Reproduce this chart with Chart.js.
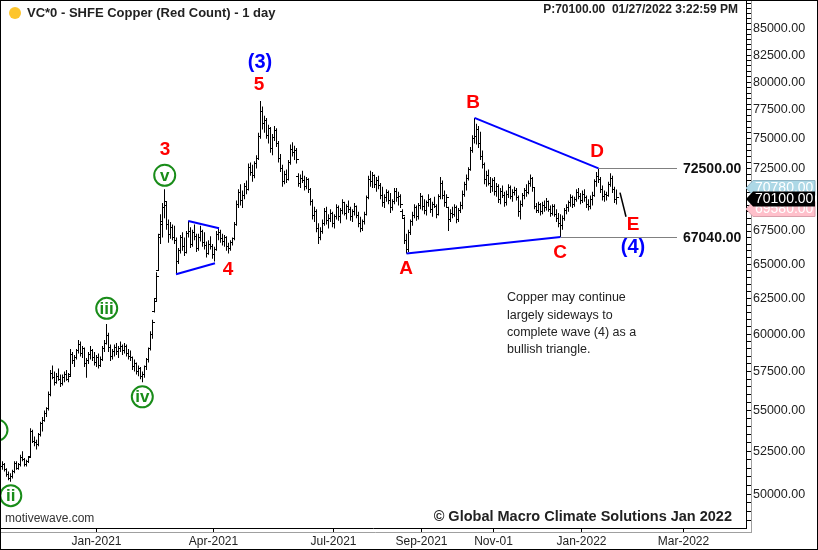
<!DOCTYPE html>
<html>
<head>
<meta charset="utf-8">
<title>VC*0 - SHFE Copper (Red Count) - 1 day</title>
<script src="https://cdn.jsdelivr.net/npm/chart.js@4.4.1/dist/chart.umd.min.js"></script>
<style>
  html, body { margin: 0; padding: 0; background: #fff; }
  canvas { display: block; }
</style>
</head>
<body>
<canvas id="chart" width="818" height="550"></canvas>
<script>
// -------------------------------
// DAILY OHLC (bar 0 = late Oct 2020, bar 307 = 27 Jan 2022)
// -------------------------------
const opens = [
  51600,51700,51400,51100,50900,51000,51300,51800,51500,51700,52100,52000,51700,51900,
  52200,53700,53100,53000,52900,53500,54200,54400,54800,
  55100,56000,57400,57100,56800,57200,57000,56700,57100,57300,57000,
  57300,58600,58200,58400,58900,59300,58700,
  59000,58000,58200,58600,58900,58400,58100,58400,57900,
  58300,59000,59400,59900,59100,58500,
  58800,59100,58800,59000,59200,58900,59200,58700,58500,
  58400,57800,58000,57500,57700,57200,57300,
  57800,58300,59000,60000,61600,62500,64500,67200,68000,69300,
  69500,68000,67200,67800,67000,66800,
  65200,66000,67000,66300,65900,67300,67500,66500,67400,67100,66200,67000,67500,66600,66400,65800,66500,66300,65700,66100,67200,67400,
  66900,66700,67000,66300,66200,66600,66900,
  68000,69600,70500,69900,70300,71000,70800,72600,72200,71900,72900,73300,75200,
  77400,76300,76600,75300,75900,74200,75100,75700,74600,73300,72500,71400,72000,71600,73000,74100,73800,74000,
  71800,71300,71700,71500,71000,71600,70800,69800,68700,69000,67700,67000,67500,
  68100,69000,68300,68500,68900,68100,68600,69300,68600,69100,69700,68900,69400,69200,68600,69000,69400,68700,
  68100,67700,68200,68800,
  70100,71600,71400,71900,71200,71500,71100,70300,69700,70100,70500,69900,69300,69800,70600,70100,70200,
  69000,68500,66800,66100,67400,68200,68700,69300,
  68600,69500,70200,69400,69100,69700,70000,69200,69600,69400,
  68800,70200,71300,70300,69700,
  69300,68400,68900,68800,69300,68400,69100,
  69500,70400,71200,71700,72400,74000,75000,75200,
  75800,74600,73500,72800,71600,71900,71300,71000,
  71500,70600,71000,70000,70600,70300,69700,70400,70900,70200,70500,70700,70100,69000,
  69600,70300,70700,70500,71300,71700,
  70900,69400,69100,69600,69000,69500,69300,69800,69200,68900,69400,68800,68500,
  68100,67900,68500,69100,69300,69700,70100,69600,70000,
  70500,70200,69900,70400,70100,69600,69400,70000,
  70300,71400,71800,71600,70800,70200,70400,70300,71200,71700,70800,70000
];
const highs = [
  51900,51800,51500,51300,51200,51400,51900,51900,51800,52300,52500,52100,52000,52200,
  53900,53800,53400,53200,53600,54300,54600,55000,55200,
  56200,57600,57900,57500,57400,57700,57300,57300,57500,57600,57400,
  59000,58800,58600,59000,59600,59500,59200,
  59100,58400,58800,59200,59000,58800,58600,58700,58500,
  59200,59600,60700,60100,59300,59000,
  59300,59400,59200,59500,59300,59400,59300,59000,58900,
  58500,58300,58100,57900,57800,57500,57900,
  58400,59100,60200,61000,62500,64400,67300,68800,69700,70800,
  69800,68400,68200,68000,67900,67000,
  66200,67200,67400,67000,67500,68300,67800,67600,68000,67300,67300,67900,67600,67400,66700,66800,67100,66500,66300,67500,67800,67600,
  67300,67200,67100,66600,66800,67000,68200,
  69900,70800,71200,70700,71300,71500,72900,73000,72800,73100,73600,75500,78300,
  77800,77000,76800,76200,76000,75400,76100,75900,74800,73700,72800,72300,72400,73200,74500,74700,74400,74200,
  72100,72000,72300,71900,71800,71700,70900,70000,69400,69200,68100,67800,68400,
  69300,69400,68800,69200,69000,68800,69600,69500,69300,70000,69800,69600,69900,69400,69200,69700,69500,69000,
  68600,68400,69000,70300,
  71900,72300,72200,72000,71800,71900,71300,71000,70400,70800,70700,70500,70000,70900,70900,70600,70400,
  69200,68600,67300,67600,68400,69000,69600,69500,
  69700,70500,70300,70000,69900,70400,70100,69800,70200,69600,
  70400,71800,71500,70700,70400,
  69400,69200,69400,69600,69500,69300,69800,
  70700,71400,72000,72600,74300,75300,76800,76300,
  76100,75600,74000,73000,72300,72400,71800,71700,
  71800,71300,71200,70900,71100,70600,70700,71200,71100,70800,71000,70900,70300,69900,
  70500,70900,71200,71500,72000,71800,
  70900,69700,69800,69700,69800,69900,70100,69900,69500,69600,69600,69200,68900,
  68800,68700,69300,69600,69900,70400,70300,70200,70800,
  70900,70500,70700,70800,70300,70000,70300,70600,
  71600,72200,72500,71800,71100,70700,70600,71400,72100,71900,71000,70780
];
const lows = [
  51400,51300,51000,50800,50700,50900,51200,51400,51400,51600,51900,51600,51600,51800,
  52100,53000,52800,52600,52800,53400,53700,54300,54600,
  55000,55900,57000,56600,56700,56900,56500,56600,56800,56900,56800,
  57200,58000,57800,58300,58700,58500,58400,
  57800,57100,58000,58300,58200,57900,57800,57700,57800,
  58200,58800,59300,58800,58200,58300,
  58500,58600,58400,58800,58600,58700,58500,58300,58200,
  57600,57500,57300,57200,57000,56800,57100,
  57600,58100,58900,59700,61500,62300,64500,66500,67000,68500,
  67600,66600,66900,66800,66500,64300,
  65000,65800,66000,65600,65800,67000,66200,66300,66800,65900,66000,66700,66300,66100,65500,65700,66100,65400,65200,66000,66800,66600,
  66400,66300,66000,65800,66000,66400,66800,
  67900,69300,69500,69300,70000,70400,70700,71900,71400,71700,72500,73200,75000,
  75800,75500,75000,74600,73800,73600,74800,74300,73000,72200,71000,71200,71300,71500,72800,73500,73200,72900,
  71000,70900,71300,70700,70800,70500,69500,68400,68200,67400,66500,66800,67300,
  67900,68000,67700,68200,67800,67700,68400,68300,68100,68800,68700,68400,68900,68300,68200,68700,68500,67800,
  67400,67500,68000,68700,
  70000,71000,70900,70900,70600,70800,70000,69400,69300,69800,69600,68900,69100,69600,69800,69500,69300,
  68500,66500,65800,65900,67200,67900,68500,68300,
  68400,69200,69100,68800,68700,69400,68900,68600,69300,68500,
  68700,70000,70000,69400,69300,
  67500,68200,68500,68600,68100,68200,68900,
  69200,70200,70700,71500,72300,73800,74600,74500,
  74200,73200,72500,71200,71000,71100,70500,70600,
  70300,70200,69700,69600,70100,69400,69500,70100,70000,69800,70300,69900,68600,68400,
  69400,70000,70200,70400,71000,70600,
  69200,68900,68900,68700,68800,69000,69100,69000,68600,68700,68600,68200,67800,
  67040,67600,68300,68800,69000,69400,69300,69400,69800,
  70000,69600,69700,69800,69300,69100,69200,69500,
  70200,71000,71300,70500,69900,69800,69900,70200,71000,70500,69700,69580
];
const closes = [
  51700,51400,51100,50900,51000,51300,51800,51500,51700,52100,52000,51700,51900,52100,
  53700,53100,53000,52900,53500,54200,54400,54800,55100,
  56000,57400,57100,56800,57200,57000,56700,57100,57300,57000,57200,
  58600,58200,58400,58900,59300,58700,59000,
  58000,58200,58600,58900,58400,58100,58400,57900,58300,
  59000,59400,59900,59100,58500,58800,
  59100,58800,59000,59200,58900,59200,58700,58500,58400,
  57800,58000,57500,57700,57200,57300,57800,
  58300,59000,60000,60800,62300,64100,67000,68200,69300,69800,
  68000,67200,67800,67000,66800,65200,
  66000,67000,66300,65900,67300,67500,66500,67400,67100,66200,67000,67500,66600,66400,65800,66500,66300,65700,66100,67200,67400,66900,
  66700,67000,66300,66200,66600,66900,68000,
  69600,70500,69900,70300,71000,70800,72600,72200,71900,72900,73300,75200,77400,
  76300,76600,75300,75900,74200,75100,75700,74600,73300,72500,71400,72000,71600,73000,74100,73800,74000,73200,
  71300,71700,71500,71000,71600,70800,69800,68700,69000,67700,67000,67500,68100,
  69000,68300,68500,68900,68100,68600,69300,68600,69100,69700,68900,69400,69200,68600,69000,69400,68700,68100,
  67700,68200,68800,70100,
  71600,71400,71900,71200,71500,71100,70300,69700,70100,70500,69900,69300,69800,70600,70100,70200,69600,
  68700,66800,66100,67400,68200,68700,69300,68600,
  69500,70200,69400,69100,69700,70000,69200,69600,69400,68800,
  70200,71300,70300,69700,70100,
  68400,68900,68800,69300,68400,69100,69500,
  70400,71200,71700,72400,74000,75000,75200,75800,
  74600,73500,72800,71600,71900,71300,71000,71500,
  70600,71000,70000,70600,70300,69700,70400,70900,70200,70500,70700,70100,69000,69600,
  70300,70700,70500,71300,71700,70900,
  69400,69100,69600,69000,69500,69300,69800,69200,68900,69400,68800,68500,68100,
  67900,68500,69100,69300,69700,70100,69600,70000,70500,
  70200,69900,70400,70100,69600,69400,70000,70300,
  71400,71800,71600,70800,70200,70400,70300,71200,71700,70800,70000,70100
];

// x axis: bar index under each date label
const dateTickBars = [47, 105.5, 165.5, 209.5, 245.5, 289.5, 340.5];
const dateTickLabels = ["Jan-2021", "Apr-2021", "Jul-2021", "Sep-2021", "Nov-01", "Jan-2022", "Mar-2022"];

// price axis labels (log scale)
const priceTicks = [50000, 52500, 55000, 57500, 60000, 62500, 65000, 67500,
                    70000, 72500, 75000, 77500, 80000, 82500, 85000];

// last session quotes shown on the axis
const quoteHigh = 70780;
const quoteLast = 70100;
const quoteLow = 69580;

// -------------------------------
// WAVE COUNT ANNOTATIONS [text, bar index, price]
// -------------------------------
const redCount = [
  ["3", 81.25, 74040], ["5", 128.25, 79740], ["4", 112.75, 64560],
  ["A", 201.75, 64640], ["B", 235.25, 78120], ["C", 278.75, 65830],
  ["D", 297.25, 73870], ["E", 315.25, 67970]
];
const blueCount = [["(3)", 128.75, 81860], ["(4)", 315.25, 66210]];
const greenCount = [
  ["i", -2.75, 53790], ["ii", 4.15, 49910], ["iii", 52.1, 61800],
  ["iv", 69.9, 55870], ["v", 81.1, 71930]
];
// [bar1, price1, bar2, price2]
const trendLines = [
  [86.75, 64250, 106.25, 65060],
  [92.9, 68280, 108.25, 67710],
  [202, 65800, 279, 67040],
  [236, 76800, 298, 72500]
];
// horizontal levels starting at a bar
const levels = [[298, 72500], [279, 67040]];
const levelEndBar = 337.25;
const projection = [308.75, 70520, 311.75, 68610];

const FONT = "'Liberation Sans', Arial, sans-serif";
Chart.defaults.font.family = FONT;

const minorTicks = [];
for (let v = 48500; v <= 87500; v += 500) minorTicks.push(v);

// open / close ticks on each bar
const ohlcTicks = {
  id: "ohlcTicks",
  afterDatasetsDraw(chart) {
    const { ctx, scales: { x, y } } = chart;
    ctx.save();
    ctx.fillStyle = "#000";
    closes.forEach((c, i) => {
      const cx = Math.floor(x.getPixelForValue(i));
      ctx.fillRect(cx - 2, Math.floor(y.getPixelForValue(opens[i])), 2, 1);
      ctx.fillRect(cx + 1, Math.floor(y.getPixelForValue(c)), 2, 1);
    });
    ctx.restore();
  }
};

const overlay = {
  id: "overlay",
  afterDraw(chart) {
    const { ctx, scales: { x, y } } = chart;
    const px = v => x.getPixelForValue(v);
    const py = v => y.getPixelForValue(v);
    ctx.save();

    // blue trend lines
    ctx.strokeStyle = "#0000ff";
    ctx.lineWidth = 2;
    trendLines.forEach(l => {
      ctx.beginPath();
      ctx.moveTo(px(l[0]), py(l[1]));
      ctx.lineTo(px(l[2]), py(l[3]));
      ctx.stroke();
    });

    // horizontal levels
    ctx.strokeStyle = "#808080";
    ctx.lineWidth = 1;
    ctx.fillStyle = "#111";
    ctx.font = "bold 14px " + FONT;
    ctx.textAlign = "left";
    ctx.textBaseline = "middle";
    levels.forEach(l => {
      const yy = Math.round(py(l[1])) + 0.5;
      ctx.beginPath();
      ctx.moveTo(px(l[0]), yy);
      ctx.lineTo(px(levelEndBar), yy);
      ctx.stroke();
      ctx.fillText(l[1].toFixed(2), 683, yy + 0.5);
    });

    // projected E leg
    ctx.strokeStyle = "#000";
    ctx.lineWidth = 1.5;
    ctx.beginPath();
    ctx.moveTo(px(projection[0]), py(projection[1]));
    ctx.lineTo(px(projection[2]), py(projection[3]));
    ctx.stroke();

    // wave labels
    ctx.textAlign = "center";
    ctx.fillStyle = "#ff0000";
    ctx.font = "bold 19px " + FONT;
    redCount.forEach(w => ctx.fillText(w[0], px(w[1]), py(w[2])));
    ctx.fillStyle = "#0000ff";
    ctx.font = "bold 20px " + FONT;
    blueCount.forEach(w => ctx.fillText(w[0], px(w[1]), py(w[2])));

    ctx.font = "bold 17px " + FONT;
    ctx.textBaseline = "alphabetic";
    greenCount.forEach(w => {
      const cx = px(w[1]), cy = py(w[2]);
      ctx.beginPath();
      ctx.arc(cx, cy, 10.5, 0, Math.PI * 2);
      ctx.fillStyle = "#fff";
      ctx.fill();
      ctx.strokeStyle = "#198c19";
      ctx.lineWidth = 2;
      ctx.stroke();
      ctx.fillStyle = "#198c19";
      ctx.fillText(w[0], cx, cy + 5.5);
    });

    // header / footer texts
    ctx.textBaseline = "middle";
    ctx.beginPath();
    ctx.arc(15, 13, 6, 0, Math.PI * 2);
    ctx.fillStyle = "#fdc52c";
    ctx.fill();
    ctx.fillStyle = "#222";
    ctx.textAlign = "left";
    ctx.font = "bold 13px " + FONT;
    ctx.fillText("VC*0 - SHFE Copper (Red Count) - 1 day", 27, 13);
    ctx.textAlign = "right";
    ctx.font = "bold 12px " + FONT;
    ctx.fillText("P:70100.00  01/27/2022 3:22:59 PM", 738, 10);
    ctx.font = "bold 14.5px " + FONT;
    ctx.fillText("\u00a9 Global Macro Climate Solutions Jan 2022", 732, 517);
    ctx.textAlign = "left";
    ctx.font = "12px " + FONT;
    ctx.fillStyle = "#333";
    ctx.fillText("motivewave.com", 5, 519);

    ctx.fillStyle = "#222";
    ctx.font = "12.5px " + FONT;
    ["Copper may continue", "largely sideways to", "complete wave (4) as a", "bullish triangle."]
      .forEach((t, k) => ctx.fillText(t, 507, 298 + k * 17.3));

    // axis frame (gray outer lines)
    ctx.strokeStyle = "#a0a0a0";
    ctx.lineWidth = 1;
    ctx.beginPath();
    ctx.moveTo(751.5, 0);
    ctx.lineTo(751.5, 533);
    ctx.moveTo(0, 532.5);
    ctx.lineTo(751.5, 532.5);
    ctx.stroke();

    // price tags
    const tag = (value, dy, fill, border) => {
      const c = Math.round(py(value) + dy);
      ctx.beginPath();
      ctx.moveTo(746, c);
      ctx.lineTo(753, c - 7.5);
      ctx.lineTo(815, c - 7.5);
      ctx.lineTo(815, c + 7.5);
      ctx.lineTo(753, c + 7.5);
      ctx.closePath();
      ctx.fillStyle = fill;
      ctx.fill();
      if (border) {
        ctx.lineWidth = 1;
        ctx.strokeStyle = border;
        ctx.stroke();
      }
      ctx.fillStyle = "#fff";
      ctx.font = "14px " + FONT;
      ctx.textAlign = "left";
      ctx.fillText(value.toFixed(2), 755, c + 0.5);
    };
    tag(quoteHigh, -1.5, "#add8e6", "#8fb4c4");
    tag(quoteLow, 5, "#ffc0cb", "#d9a0ab");
    tag(quoteLast, 1.5, "#000", null);

    // outer border
    ctx.strokeStyle = "#000";
    ctx.strokeRect(0.5, 0.5, 817, 549);
    ctx.restore();
  }
};

new Chart(document.getElementById("chart").getContext("2d"), {
  type: "bar",
  data: {
    datasets: [{
      data: highs.map((h, i) => ({ x: i, y: [lows[i], h] })),
      backgroundColor: "#000",
      borderWidth: 0,
      barThickness: 1,
      inflateAmount: 0
    }]
  },
  options: {
    responsive: false,
    animation: false,
    events: [],
    devicePixelRatio: 1,
    layout: { padding: 0 },
    plugins: { legend: { display: false }, tooltip: { enabled: false } },
    scales: {
      x: {
        type: "linear",
        min: -1.25,
        max: 371.75,
        offset: false,
        afterBuildTicks: s => { s.ticks = dateTickBars.map(v => ({ value: v })); },
        afterFit: s => { s.height = 22; s.paddingLeft = 0; s.paddingRight = 0; },
        ticks: {
          autoSkip: false,
          maxRotation: 0,
          padding: 1,
          color: "#222",
          font: { size: 12 },
          callback: v => dateTickLabels[dateTickBars.indexOf(v)]
        },
        grid: { drawOnChartArea: false, offset: false, tickLength: 5, tickColor: "#000" },
        border: { color: "#000" }
      },
      y: {
        type: "logarithmic",
        position: "right",
        min: 48100,
        max: 87860,
        afterBuildTicks: s => { s.ticks = minorTicks.map(v => ({ value: v })); },
        afterFit: s => { s.width = 72; s.paddingTop = 0; s.paddingBottom = 0; },
        ticks: {
          autoSkip: false,
          padding: 2,
          color: "#222",
          font: { size: 12.5 },
          callback: v => priceTicks.includes(v) ? v.toFixed(2) : ""
        },
        grid: { drawOnChartArea: false, tickLength: 5, tickColor: "#000" },
        border: { color: "#000" }
      }
    }
  },
  plugins: [ohlcTicks, overlay]
});
</script>
</body>
</html>
